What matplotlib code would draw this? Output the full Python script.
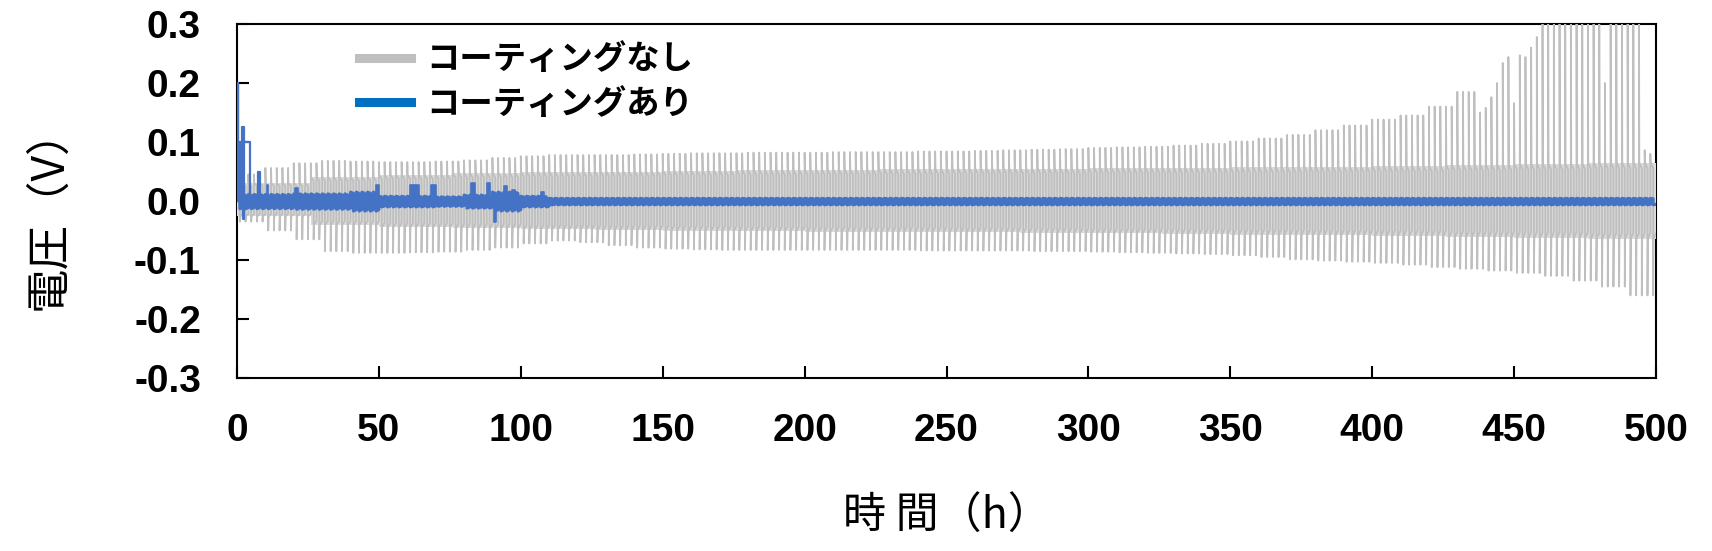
import matplotlib
matplotlib.use("Agg")
import matplotlib.pyplot as plt
from matplotlib.lines import Line2D
import numpy as np

plt.rcParams["axes.unicode_minus"] = False
plt.rcParams["font.family"] = ["Liberation Sans", "Noto Sans CJK JP"]

JP = ["Noto Sans CJK JP", "DejaVu Sans"]

CYCLE_H = 2.0
N_CYCLES = 250
BIN_H = 10
# uncoated cell: spike tops / bottoms, one value per 10 h bin (V)
UPPER_PEAK = [0.045, 0.056, 0.064, 0.068, 0.067, 0.066, 0.066, 0.067, 0.069, 0.073,
              0.076, 0.078, 0.078, 0.078, 0.079, 0.080, 0.081, 0.081, 0.082, 0.082,
              0.082, 0.083, 0.083, 0.083, 0.084, 0.084, 0.085, 0.086, 0.087, 0.088,
              0.090, 0.091, 0.092, 0.094, 0.097, 0.101, 0.106, 0.112, 0.120, 0.128,
              0.138, 0.145, 0.160, 0.185, 0.185, 0.185, 0.185, 0.185, 0.185, 0.185]
LOWER_PEAK = [-0.035, -0.050, -0.065, -0.085, -0.088, -0.088, -0.087, -0.086, -0.083, -0.079,
              -0.072, -0.067, -0.070, -0.075, -0.079, -0.081, -0.082, -0.083, -0.083, -0.083,
              -0.083, -0.083, -0.083, -0.083, -0.084, -0.084, -0.084, -0.084, -0.085, -0.085,
              -0.086, -0.087, -0.088, -0.089, -0.090, -0.092, -0.095, -0.099, -0.101, -0.103,
              -0.105, -0.108, -0.112, -0.115, -0.118, -0.122, -0.127, -0.135, -0.145, -0.160]
# plateau after each spike, one value per 25 h bin (V)
PLAT_BIN_H = 25
UPPER_PLAT = [0.030, 0.040, 0.044, 0.047, 0.049, 0.050, 0.051, 0.052, 0.053, 0.054,
              0.055, 0.055, 0.056, 0.056, 0.057, 0.058, 0.059, 0.061, 0.063, 0.065]
LOWER_PLAT = [-0.026, -0.040, -0.044, -0.046, -0.048, -0.049, -0.050, -0.051, -0.052, -0.052,
              -0.053, -0.054, -0.055, -0.056, -0.057, -0.058, -0.059, -0.061, -0.062, -0.064]
# last cycles read one by one (0.35 = above the plot)
LATE_T0 = 436
LATE_PEAKS = [0.185, 0.150, 0.158, 0.176, 0.200, 0.234, 0.244, 0.166, 0.247, 0.244,
              0.260, 0.278, 0.350, 0.350, 0.350, 0.350, 0.350, 0.350, 0.350, 0.350,
              0.350, 0.350, 0.350, 0.200, 0.350, 0.350, 0.350, 0.350, 0.350, 0.350,
              0.086, 0.080]

# coated cell: band half width per 10 h bin (V)
BLUE_AMP = [0.012, 0.012, 0.013, 0.013, 0.016, 0.009, 0.009, 0.008, 0.011, 0.016,
            0.009] + [0.0055] * 39
BLUE_OFFSET = -0.001
# isolated jumps of the coated cell: start (h), end (h), level (V), filled or outline
EV_T0 = [0.2, 1.05, 1.8, 2.0, 7.5, 10.5, 20.5, 49.0, 61.0, 68.5, 82.5, 88.0, 90.5, 94.0, 97.0, 107.0]
EV_T1 = [0.5, 4.7, 2.3, 2.4, 8.0, 11.0, 21.5, 50.0, 64.0, 70.0, 84.0, 89.0, 91.2, 95.0, 98.0, 108.0]
EV_V = [0.200, 0.100, 0.125, -0.030, 0.050, 0.027, 0.022, 0.027, 0.027, 0.027,
        0.030, 0.030, -0.035, 0.025, 0.018, 0.015]
EV_FILLED = [False, False, False, False, False, True, True, True, True, True,
             True, True, True, True, True, True]

X_TICKS = [0, 50, 100, 150, 200, 250, 300, 350, 400, 450, 500]
Y_TICKS = [-0.3, -0.2, -0.1, 0.0, 0.1, 0.2, 0.3]
LABELS = ["コーティングなし", "コーティングあり"]
COLORS = ["#bfbfbf", "#4472c4"]
BAND_COLOR = "#dadada"
LEGEND_COLORS = ["#bfbfbf", "#0070c0"]


def cycle_wave(hi, lo, hi_pl, lo_pl):
    t, v = [], []
    half = CYCLE_H / 2
    for k in range(len(hi)):
        t0 = k * CYCLE_H
        t += [t0, t0 + 0.12, t0 + half, t0 + half, t0 + half + 0.12, t0 + CYCLE_H]
        v += [hi[k], hi_pl[k], hi_pl[k] * 0.85, lo[k], lo_pl[k], lo_pl[k] * 0.85]
    return np.array(t), np.array(v)


def gray_cycles():
    hi, lo, hp, lp = [], [], [], []
    for k in range(N_CYCLES):
        t0 = k * CYCLE_H
        b = int(t0 // BIN_H)
        p = int(t0 // PLAT_BIN_H)
        top = UPPER_PEAK[b]
        if t0 >= LATE_T0:
            top = LATE_PEAKS[int((t0 - LATE_T0) // CYCLE_H)]
        hi.append(top); lo.append(LOWER_PEAK[b])
        hp.append(UPPER_PLAT[p]); lp.append(LOWER_PLAT[p])
    return hi, lo, hp, lp


def blue_series():
    amp = [BLUE_AMP[int(k * CYCLE_H // BIN_H)] for k in range(N_CYCLES)]
    hi = [BLUE_OFFSET + a for a in amp]
    lo = [BLUE_OFFSET - a for a in amp]
    return cycle_wave(hi, lo, hi, lo)


def main():
    fig = plt.figure(figsize=(17.12, 5.51), dpi=100)
    ax = fig.add_axes([237 / 1712, 1 - 378 / 551, 1419 / 1712, 354 / 551])

    hi, lo, hp, lp = gray_cycles()
    tc = np.arange(N_CYCLES + 1) * CYCLE_H
    ax.fill_between(tc, lp + lp[-1:], hp + hp[-1:], step="post",
                    color=BAND_COLOR, lw=0, zorder=2.8)
    tg, vg = cycle_wave(hi, lo, hp, lp)
    ax.plot(tg, vg, color=COLORS[0], lw=1.3, zorder=3)

    tb, vb = blue_series()
    ax.plot(tb, vb, color=COLORS[1], lw=2.2, zorder=4)
    for t0, t1, v, filled in zip(EV_T0, EV_T1, EV_V, EV_FILLED):
        if filled:
            ax.fill_between([t0, t1], 0, v, color=COLORS[1], lw=1.2, zorder=4)
        else:
            ax.plot([t0, t0, t1, t1], [0, v, v, 0], color=COLORS[1], lw=1.6, zorder=4)

    ax.set_xlim(0, 500)
    ax.set_ylim(-0.3, 0.3)
    ax.set_xticks(X_TICKS)
    ax.set_yticks(Y_TICKS)
    ax.set_yticklabels([f"{y:.1f}" for y in Y_TICKS])
    ax.tick_params(direction="in", length=8.5, width=1.5, labelsize=28)
    ax.tick_params(axis="x", pad=25)
    ax.tick_params(axis="y", pad=26)
    for lbl in ax.get_xticklabels() + ax.get_yticklabels():
        lbl.set_fontweight("bold")
    for s in ax.spines.values():
        s.set_linewidth(1.5)

    ax.set_xlabel("時 間（h）", family=JP, fontsize=31)
    ax.xaxis.set_label_coords(0.5, -0.33)
    ax.set_ylabel("電圧（V）", family=JP, fontsize=32)
    ax.yaxis.set_label_coords(-0.117, 0.48)

    handles = [Line2D([], [], color=c, lw=6.5) for c in LEGEND_COLORS]
    ax.legend(handles, LABELS, loc="upper left", bbox_to_anchor=(0.086, 0.945),
              frameon=False, borderpad=0, borderaxespad=0, handlelength=1.55,
              handletextpad=0.48, labelspacing=0.34,
              prop={"family": JP, "size": 24, "weight": "bold"})

    fig.savefig("out.png", dpi=100)
    plt.close(fig)


if __name__ == "__main__":
    main()
